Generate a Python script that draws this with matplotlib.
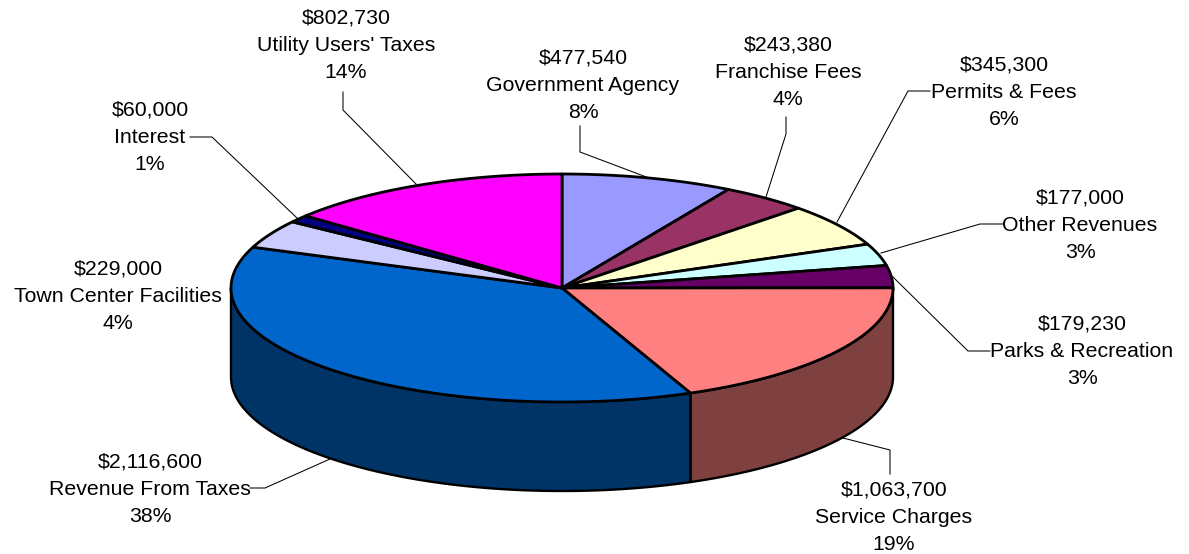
import numpy as np
import matplotlib
matplotlib.use("Agg")
import matplotlib.pyplot as plt
from matplotlib.patches import Polygon

plt.rcParams["font.family"] = ["Liberation Sans", "DejaVu Sans"]

# Revenue sources, clockwise from twelve o'clock
categories = ["Government Agency", "Franchise Fees", "Permits & Fees", "Other Revenues",
              "Parks & Recreation", "Service Charges", "Revenue From Taxes",
              "Town Center Facilities", "Interest", "Utility Users' Taxes"]
amounts = [477540, 243380, 345300, 177000, 179230, 1063700, 2116600, 229000, 60000, 802730]
percent_labels = ["8%", "4%", "6%", "3%", "3%", "19%", "38%", "4%", "1%", "14%"]

top_colors = ["#9999FF", "#993366", "#FFFFCC", "#CCFFFF", "#660066",
              "#FF8080", "#0066CC", "#CCCCFF", "#000080", "#FF00FF"]
# Only the two slices at the front show their outer wall
wall_colors = {5: "#7F4040", 6: "#003366"}

# Pixel layout of the tilted disc
CX, CY, RX, RY, DEPTH = 562, 288, 331, 114, 89

# Centre x and first-line y of each label block
label_anchor = [(583, 58), (788, 45), (1004, 65), (1080, 198), (1082, 324),
                (894, 490), (150, 462), (118, 269), (150, 110), (346, 18)]
LINE_STEP = 27.3

# Leader polylines, from the label to the rim
leaders = [
    [(580, 126), (580, 152), (649, 178)],
    [(786, 117), (786, 134), (766, 197)],
    [(930, 91), (908, 91), (837, 222)],
    [(1003, 224), (980, 224), (881, 253)],
    [(990, 351), (968, 351), (893, 277)],
    [(890, 474), (890, 450), (843, 438)],
    [(250, 488), (265, 488), (330, 459)],
    None,
    [(190, 137), (212, 137), (297, 218)],
    [(343, 92), (343, 110), (416, 184)],
]


def rim(a0, a1, n=160, dy=0.0):
    """Points on the ellipse; angles in radians, clockwise from the top."""
    t = np.linspace(a0, a1, n)
    return np.column_stack([CX + RX * np.sin(t), CY - RY * np.cos(t) + dy])


fig = plt.figure(figsize=(11.89, 5.54), dpi=100, facecolor="white")
ax = fig.add_axes([0, 0, 1, 1])
ax.set_xlim(0, 1189)
ax.set_ylim(554, 0)
ax.axis("off")

fractions = np.array(amounts, dtype=float) / sum(amounts)
edges = np.concatenate([[0], np.cumsum(fractions)]) * 2 * np.pi

# Outer walls of the front slices, clipped to the visible half of the disc
for i, color in wall_colors.items():
    a0, a1 = edges[i], min(edges[i + 1], 1.5 * np.pi)
    upper = rim(a0, a1)
    lower = rim(a1, a0, dy=DEPTH)
    ax.add_patch(Polygon(np.vstack([upper, lower]), closed=True, facecolor=color,
                         edgecolor="black", linewidth=1.7, joinstyle="round", zorder=1))

# Top faces
for i, color in enumerate(top_colors):
    pts = np.vstack([[(CX, CY)], rim(edges[i], edges[i + 1])])
    ax.add_patch(Polygon(pts, closed=True, facecolor=color, edgecolor="black",
                         linewidth=2.0, joinstyle="round", zorder=2))

# Leader lines
for path in leaders:
    if path is None:
        continue
    xs, ys = zip(*path)
    ax.plot(xs, ys, color="black", linewidth=0.75, zorder=3, solid_joinstyle="miter")

# Three-line labels: amount, name, share
for name, amount, pct, (x, y) in zip(categories, amounts, percent_labels, label_anchor):
    for k, line in enumerate([f"${amount:,}", name, pct]):
        ax.text(x, y + k * LINE_STEP, line, ha="center", va="center",
                fontsize=15.3, color="black", zorder=4)

fig.savefig("out.png", dpi=100, facecolor="white")
